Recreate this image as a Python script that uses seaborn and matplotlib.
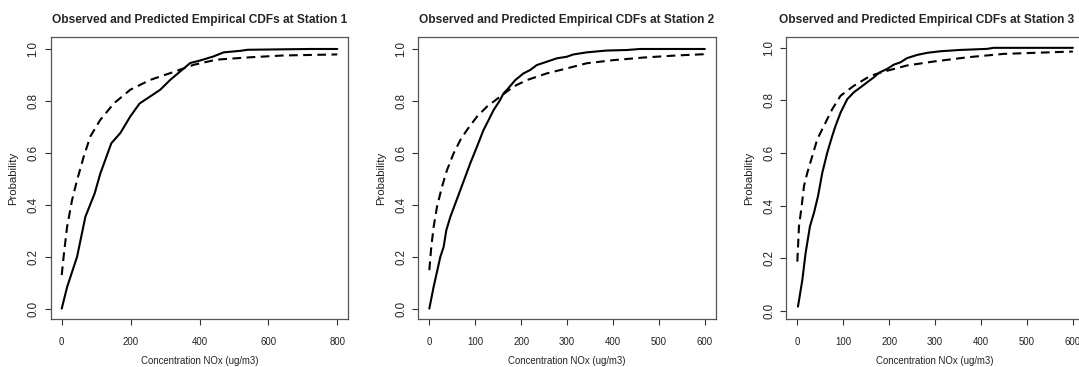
import matplotlib
matplotlib.use("Agg")
import matplotlib.pyplot as plt
import seaborn as sns

# ---- data ----
titles = ["Observed and Predicted Empirical CDFs at Station 1",
          "Observed and Predicted Empirical CDFs at Station 2",
          "Observed and Predicted Empirical CDFs at Station 3"]
x_label = "Concentration NOx (ug/m3)"
y_label = "Probability"

obs1_x = [0, 15.6, 44.6, 68.7, 95.7, 112, 144, 170, 199, 226, 286, 315, 373, 400, 440, 470, 519, 540, 720, 800]
obs1_y = [0.0, 0.083, 0.20, 0.354, 0.444, 0.52, 0.637, 0.676, 0.74, 0.79, 0.843, 0.881, 0.946, 0.955, 0.971, 0.987, 0.993, 0.997, 1.0, 1.0]
pred1_x = [0, 6.3, 15.6, 30, 44.6, 63.8, 83, 112, 151, 199, 257, 315, 383, 450, 547, 643, 800]
pred1_y = [0.129, 0.21, 0.315, 0.418, 0.495, 0.585, 0.663, 0.727, 0.79, 0.843, 0.881, 0.907, 0.939, 0.959, 0.968, 0.975, 0.979]

obs2_x = [0, 9.4, 23.9, 31.2, 37, 45.7, 67.4, 89, 103.6, 118, 129, 140, 154, 161.6, 168.8, 187, 205, 219.6, 234, 255.8, 277.5, 299, 313.8, 342.8, 386, 430, 458.7, 600]
obs2_y = [0.0, 0.084, 0.199, 0.238, 0.302, 0.353, 0.456, 0.559, 0.623, 0.688, 0.726, 0.765, 0.803, 0.829, 0.842, 0.88, 0.906, 0.919, 0.938, 0.951, 0.964, 0.97, 0.979, 0.987, 0.994, 0.996, 1.0, 1.0]
pred2_x = [0, 4.3, 9.4, 16.7, 27.5, 38.4, 52.9, 67.4, 81.9, 103.6, 125.4, 154, 183, 212, 255.8, 299, 342.8, 400.7, 466, 538, 600]
pred2_y = [0.148, 0.238, 0.315, 0.392, 0.469, 0.533, 0.598, 0.649, 0.688, 0.739, 0.778, 0.816, 0.855, 0.88, 0.906, 0.925, 0.945, 0.957, 0.967, 0.975, 0.98]

obs3_x = [1.4, 10.9, 18, 27.5, 36.2, 45, 54.3, 65.2, 76, 83.3, 94.2, 108.7, 123, 137.7, 152, 166.7, 177.5, 195.7, 210, 224.6, 239, 261, 282.6, 311.6, 355, 413, 427.5, 600]
obs3_y = [0.017, 0.118, 0.22, 0.322, 0.373, 0.436, 0.525, 0.602, 0.665, 0.704, 0.754, 0.805, 0.831, 0.85, 0.869, 0.888, 0.905, 0.92, 0.936, 0.945, 0.961, 0.973, 0.981, 0.987, 0.992, 0.996, 1.0, 1.0]
pred3_x = [0, 3.6, 9.4, 14.5, 21.7, 32.6, 43.5, 58, 76, 94.2, 123.2, 159.4, 195.7, 239, 297, 369.6, 449.3, 600]
pred3_y = [0.188, 0.322, 0.398, 0.475, 0.525, 0.589, 0.653, 0.704, 0.767, 0.818, 0.856, 0.894, 0.913, 0.933, 0.948, 0.964, 0.977, 0.986]

x_ticks = [[0, 200, 400, 600, 800], [0, 100, 200, 300, 400, 500, 600], [0, 100, 200, 300, 400, 500, 600]]
y_ticks = [0.0, 0.2, 0.4, 0.6, 0.8, 1.0]
y_tick_labels = ["0.0", "0.2", "0.4", "0.6", "0.8", "1.0"]

observed = [(obs1_x, obs1_y), (obs2_x, obs2_y), (obs3_x, obs3_y)]
predicted = [(pred1_x, pred1_y), (pred2_x, pred2_y), (pred3_x, pred3_y)]

# ---- styling / layout ----
sns.set_style("ticks")
plt.rcParams["font.family"] = ["Liberation Sans", "DejaVu Sans"]

W, H = 1079, 367
fig = plt.figure(figsize=(W / 100, H / 100), dpi=100)
fig.patch.set_facecolor("white")

ax_left_px = [50.7, 418.3, 786.3]
ax_w_px = 297.6
ax_top_px, ax_bot_px = 37.3, 319.0
xlims = [(-32, 832), (-24, 624), (-24, 624)]
ylims = [(-0.04, 1.045), (-0.04, 1.045), (-0.03, 1.04)]
title_x = [0.5, 0.5, 0.472]

for i in range(3):
    ax = fig.add_axes([ax_left_px[i] / W, (H - ax_bot_px) / H, ax_w_px / W, (ax_bot_px - ax_top_px) / H])
    ox, oy = observed[i]
    px, py = predicted[i]
    sns.lineplot(x=ox, y=oy, ax=ax, color="black", linewidth=1.5, sort=False, estimator=None)
    sns.lineplot(x=px, y=py, ax=ax, color="black", linewidth=1.5, sort=False, estimator=None,
                 linestyle=(0, (4.2, 2.6)))
    ax.set_xlim(*xlims[i])
    ax.set_ylim(*ylims[i])
    ax.set_xticks(x_ticks[i])
    ax.set_xticklabels([str(t) for t in x_ticks[i]])
    ax.set_yticks(y_ticks)
    ax.set_yticklabels(y_tick_labels, rotation=90, va="center")
    ax.tick_params(axis="x", length=4.5, width=0.8, color="#333333", labelsize=6.9, labelcolor="#222222", pad=8.3)
    ax.tick_params(axis="y", length=4.5, width=0.8, color="#333333", labelsize=8.3, labelcolor="#222222", pad=3.6)
    for s in ax.spines.values():
        s.set_visible(True)
        s.set_color("#555555")
        s.set_linewidth(0.9)
    ax.set_title(titles[i], fontsize=8.6, fontweight="bold", pad=10.5)
    ax.title.set_x(title_x[i])
    ax.set_xlabel(x_label, fontsize=6.9, color="#222222")
    ax.set_ylabel(y_label, fontsize=8.2, color="#222222")
    ax.xaxis.set_label_coords(0.5, -0.131)
    ax.yaxis.set_label_coords(-0.108, 0.5)
    ax.set_facecolor("white")

fig.savefig("out.png", dpi=100)
